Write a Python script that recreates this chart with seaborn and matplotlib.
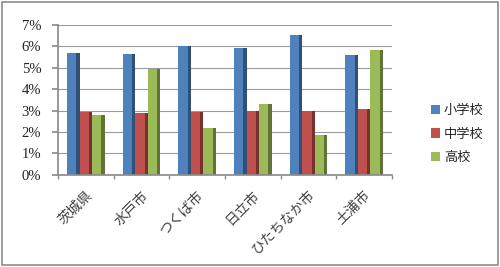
import matplotlib
matplotlib.use("Agg")
import matplotlib.pyplot as plt
import seaborn as sns
import pandas as pd
from matplotlib.patches import Rectangle

categories = ["茨城県", "水戸市", "つくば市", "日立市", "ひたちなか市", "土浦市"]
series_names = ["小学校", "中学校", "高校"]
elementary = [5.7, 5.65, 6.0, 5.93, 6.55, 5.6]
junior = [2.95, 2.9, 2.95, 2.97, 2.97, 3.07]
high = [2.78, 4.95, 2.2, 3.3, 1.88, 5.82]
yticks = [0, 1, 2, 3, 4, 5, 6, 7]
ytick_labels = ["0%", "1%", "2%", "3%", "4%", "5%", "6%", "7%"]
colors = ["#4F81BD", "#C0504D", "#9BBB59"]

rows = []
for vals, name in zip([elementary, junior, high], series_names):
    for c, v in zip(categories, vals):
        rows.append({"地域": c, "学校": name, "割合": v})
df = pd.DataFrame(rows)

sns.set_theme(style="white")
# Latin glyphs (percent ticks) in a serif face, Japanese falls back to Noto Sans CJK
plt.rcParams["font.family"] = ["Liberation Serif", "Noto Sans CJK JP", "DejaVu Sans"]

fig = plt.figure(figsize=(5.0, 2.67), dpi=100)
ax = fig.add_axes([0.116, 0.345, 0.668, 0.561])
sns.barplot(data=df, x="地域", y="割合", hue="学校", palette=colors,
            width=0.68, ax=ax, legend=True, saturation=1, edgecolor="none")

# 3D-ish side shading derived from the bar patches
for bar in list(ax.patches):
    if bar.get_height() <= 0:
        continue
    x0, w, h = bar.get_x(), bar.get_width(), bar.get_height()
    fc = bar.get_facecolor()
    dark = tuple(c * 0.62 for c in fc[:3])
    ax.add_patch(Rectangle((x0 + w * 0.74, 0), w * 0.26, h, facecolor=dark,
                           edgecolor="none", zorder=bar.get_zorder() + 0.1))

ax.set_ylim(0, 7)
ax.set_xlim(-0.5, len(categories) - 0.5)
ax.set_yticks(yticks, labels=ytick_labels, color="#222222")
ax.set_xticks([i - 0.5 for i in range(len(categories) + 1)], minor=True)
ax.grid(axis="y", color="#9a9a9a", linewidth=0.8)
ax.set_axisbelow(True)
ax.set_xlabel("")
ax.set_ylabel("")
for s in ["top", "right"]:
    ax.spines[s].set_visible(False)
ax.spines["left"].set_color("#8c8c8c")
ax.spines["bottom"].set_color("#8c8c8c")
ax.tick_params(axis="y", length=4, labelsize=10.5, pad=8, color="#8c8c8c", left=True)
ax.tick_params(axis="x", which="major", length=0, labelsize=10, pad=10)
ax.tick_params(axis="x", which="minor", length=3, color="#8c8c8c", bottom=True)
for t in ax.get_xticklabels():
    t.set_rotation(45)
    t.set_ha("right")
    t.set_rotation_mode("anchor")
    t.set_color("#404040")

ax.legend(handles=ax.get_legend().legend_handles, labels=series_names,
          loc="center left", bbox_to_anchor=(1.08, 0.27), frameon=False,
          fontsize=9.5, handlelength=0.7, handleheight=0.7, handletextpad=0.3,
          labelspacing=0.85)

fig.patches.append(Rectangle((0.004, 0.006), 0.992, 0.988, transform=fig.transFigure,
                             fill=False, edgecolor="#8c8c8c", linewidth=1.2))

fig.savefig("out.png", dpi=100)
